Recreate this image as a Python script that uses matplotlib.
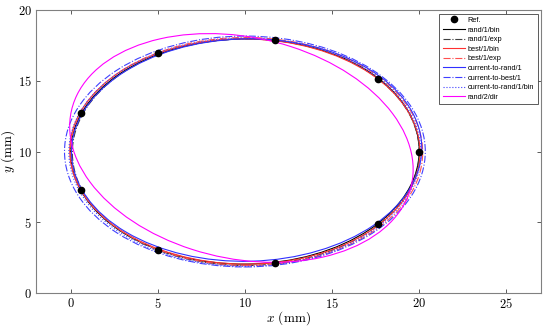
import numpy as np
import matplotlib
matplotlib.use("Agg")
import matplotlib.pyplot as plt
from matplotlib.patches import Ellipse
from matplotlib.lines import Line2D

# reference points (mm)
ref_x = [20.0, 17.66, 11.74, 5.0, 0.6, 0.6, 5.0, 11.74, 17.66]
ref_y = [10.0, 15.14, 17.88, 16.93, 12.74, 7.26, 3.07, 2.12, 4.86]

# fitted ellipses per method: centre x, centre y, semi-axis a, semi-axis b, tilt (deg)
methods = ["rand/1/bin", "rand/1/exp", "best/1/bin", "best/1/exp",
           "current-to-rand/1", "current-to-best/1", "current-to-rand/1/bin", "rand/2/dir"]
cx = [10.0, 10.05, 10.0, 10.1, 10.1, 10.0, 10.0, 9.8]
cy = [10.0, 9.95, 10.0, 10.0, 10.1, 10.0, 9.95, 10.25]
semi_a = [10.0, 9.95, 10.05, 10.1, 10.05, 10.35, 10.1, 10.15]
semi_b = [7.95, 8.0, 7.95, 8.05, 7.85, 8.15, 8.05, 7.7]
tilt = [1.0, 0.5, -1.0, -1.0, 2.0, 0.0, 0.0, -21.6]

colors = ["black", "#404040", "#ff3030", "#ff5050", "#3030ff", "#4040ff", "#4040ff", "#ff00ff"]
styles = ["-", "-.", "-", "-.", "-", "-.", ":", "-"]

plt.rcParams["mathtext.fontset"] = "cm"
plt.rcParams["axes.formatter.use_mathtext"] = True

fig = plt.figure(figsize=(5.5, 3.29), dpi=100)
ax = fig.add_axes([0.065, 0.109, 0.919, 0.861])

handles = []
h, = ax.plot(ref_x, ref_y, "o", color="black", markersize=4.5, zorder=5, label="Ref.")
handles.append(h)
for i in range(len(methods)):
    e = Ellipse((cx[i], cy[i]), 2 * semi_a[i], 2 * semi_b[i], angle=tilt[i],
                fill=False, edgecolor=colors[i], linestyle=styles[i], linewidth=0.8)
    ax.add_patch(e)
    handles.append(Line2D([], [], color=colors[i], linestyle=styles[i], linewidth=0.8, label=methods[i]))

ax.set_xlim(-2, 27)
ax.set_ylim(0, 20)
ax.set_xticks([0, 5, 10, 15, 20, 25])
ax.set_yticks([0, 5, 10, 15, 20])
for lab in ax.get_xticklabels() + ax.get_yticklabels():
    lab.set_fontfamily("cmr10")
    lab.set_fontsize(9)
ax.tick_params(direction="in", top=True, right=True, length=3, width=0.6, colors="#404040",
               labelcolor="black", pad=3)
for s in ax.spines.values():
    s.set_color("#808080")
    s.set_linewidth(0.8)

ax.set_xlabel(r"$x$ (mm)", fontfamily="cmr10", fontsize=9.5)
ax.set_ylabel(r"$y$ (mm)", fontfamily="cmr10", fontsize=9.5)
ax.xaxis.set_label_coords(0.5, -0.058)
ax.yaxis.set_label_coords(-0.037, 0.5)

leg = ax.legend(handles=handles, loc="upper right", handlelength=3.1,
                labelspacing=0.33, borderpad=0.45, handletextpad=0.3, fancybox=False,
                edgecolor="#404040", framealpha=1, prop={"family": "Liberation Sans", "size": 5.3})
leg.get_frame().set_linewidth(0.6)

fig.savefig("out.png", dpi=100)
